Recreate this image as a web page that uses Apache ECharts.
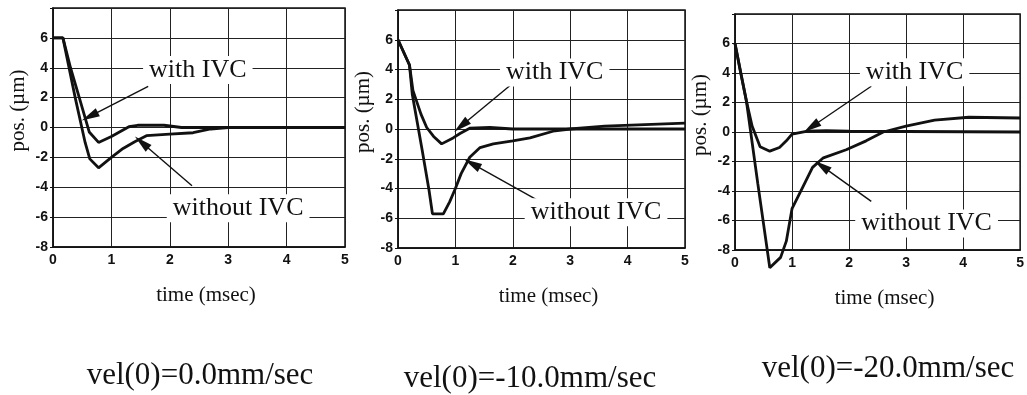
<!DOCTYPE html>
<html>
<head>
<meta charset="utf-8">
<script src="https://cdn.jsdelivr.net/npm/echarts@6/dist/echarts.min.js"></script>
<style>
  html, body { margin: 0; padding: 0; background: #fff; }
  #chart { width: 1027px; height: 395px; }
</style>
</head>
<body>
<div id="chart"></div>
<script>
// 讀圖估計的資料 (time msec, pos um)
const withIvc1 = [[0, 6], [0.17, 6], [0.3, 4.0], [0.45, 2.0], [0.62, -0.3], [0.78, -1.0], [1.0, -0.6], [1.3, 0.05], [1.45, 0.15], [1.9, 0.15], [2.2, 0], [5, 0]];
const withoutIvc1 = [[0, 6], [0.17, 6], [0.38, 2.0], [0.55, -1.0], [0.63, -2.1], [0.78, -2.7], [1.0, -2.0], [1.2, -1.4], [1.4, -0.95], [1.6, -0.55], [2.0, -0.45], [2.4, -0.35], [2.7, -0.1], [3.0, 0], [5, 0]];

const withIvc2 = [[0, 6], [0.2, 4.3], [0.26, 2.6], [0.4, 1.0], [0.5, 0.1], [0.62, -0.5], [0.76, -1.0], [0.96, -0.6], [1.08, -0.3], [1.25, 0.05], [1.6, 0.1], [2.0, 0], [5, 0]];
const withoutIvc2 = [[0, 6], [0.2, 4.3], [0.25, 2.3], [0.42, -1.4], [0.54, -4.1], [0.6, -5.7], [0.79, -5.7], [0.9, -4.9], [1.0, -4.0], [1.1, -3.0], [1.25, -1.9], [1.43, -1.25], [1.66, -1.0], [2.0, -0.8], [2.3, -0.6], [2.7, -0.15], [3.0, 0], [3.6, 0.2], [4.3, 0.3], [5, 0.4]];

const withIvc3 = [[0, 6], [0.1, 4.0], [0.2, 2.1], [0.3, 0.4], [0.44, -1.0], [0.61, -1.3], [0.78, -1.05], [0.9, -0.6], [1.0, -0.15], [1.25, 0.05], [1.6, 0.1], [2.0, 0.05], [5, 0]];
const withoutIvc3 = [[0, 6], [0.2, 2.1], [0.4, -3.5], [0.61, -9.2], [0.8, -8.5], [0.9, -7.4], [1.0, -5.2], [1.18, -3.8], [1.36, -2.4], [1.55, -1.75], [1.95, -1.2], [2.3, -0.6], [2.6, 0], [3.0, 0.4], [3.5, 0.8], [4.1, 1.0], [5, 0.95]];

const subtitles = ['vel(0)=0.0mm/sec', 'vel(0)=-10.0mm/sec', 'vel(0)=-20.0mm/sec'];
const seriesNames = ['with IVC', 'without IVC'];

// 標註: 文字位置與箭頭 (data coords)
const withLabelAt = [[2.48, 3.85], [2.73, 3.8], [3.15, 4.05]];
const withoutLabelAt = [[3.17, -5.4], [3.45, -5.6], [3.36, -6.2]];
const withArrows = [[[1.63, 2.75], [0.63, 0.75]], [[2.0, 3.07], [1.1, 0.2]], [[2.39, 3.1], [1.34, 0.34]]];
const withoutArrows = [[[2.38, -3.9], [1.52, -1.0]], [[2.53, -5.0], [1.29, -2.33]], [[2.39, -4.7], [1.52, -2.3]]];

const panels = [
  { withData: withIvc1, withoutData: withoutIvc1, grid: { left: 53, top: 8, width: 292, height: 239 }, sub: { x: 195, y: 355 } },
  { withData: withIvc2, withoutData: withoutIvc2, grid: { left: 398, top: 10, width: 287, height: 238 }, sub: { x: 525, y: 358 } },
  { withData: withIvc3, withoutData: withoutIvc3, grid: { left: 735, top: 14, width: 287, height: 236 }, sub: { x: 883, y: 348 } },
];

const serif = '"Liberation Serif", "Times New Roman", serif';
const sans = '"Liberation Sans", Arial, sans-serif';

const chart = echarts.init(document.getElementById('chart'), null, { renderer: 'canvas' });

const grids = [], xAxes = [], yAxes = [], series = [], titles = [];

panels.forEach((p, i) => {
  grids.push(Object.assign({ show: true, borderColor: '#111', borderWidth: 1.5, backgroundColor: 'transparent' }, p.grid));

  xAxes.push({
    type: 'value', gridIndex: i, min: 0, max: 5, interval: 1,
    name: 'time (msec)', nameLocation: 'middle', nameGap: 38,
    nameTextStyle: { fontFamily: serif, fontSize: 21, color: '#111', padding: [0, 0, 0, 14] },
    axisLine: { show: true, onZero: false, lineStyle: { color: '#111', width: 1.5 } },
    axisTick: { show: false },
    axisLabel: { fontFamily: sans, fontWeight: 'bold', fontSize: 14, color: '#111', margin: 6 },
    splitLine: { show: true, lineStyle: { color: '#222', width: 1 } },
  });

  yAxes.push({
    type: 'value', gridIndex: i, min: -8, max: 8, interval: 2,
    name: 'pos. (\u00b5m)', nameLocation: 'middle', nameGap: 24,
    nameTextStyle: { fontFamily: serif, fontSize: 21, color: '#111', padding: [0, 0, 0, 34] },
    axisLine: { show: true, onZero: false, lineStyle: { color: '#111', width: 1.5 } },
    axisTick: { show: true, inside: false, length: 3, lineStyle: { color: '#111' } },
    axisLabel: {
      fontFamily: sans, fontWeight: 'bold', fontSize: 14, color: '#111', margin: 5,
      formatter: (v) => (v === 8 ? '' : String(v)),
    },
    splitLine: { show: true, lineStyle: { color: '#222', width: 1 } },
  });

  const labelStyle = {
    show: true, position: 'inside', fontFamily: serif, fontSize: 26, color: '#111',
    backgroundColor: '#fff', padding: [1, 6],
  };

  series.push({
    name: seriesNames[0], type: 'line', xAxisIndex: i, yAxisIndex: i,
    data: p.withData, showSymbol: false, clip: false,
    lineStyle: { color: '#111', width: 2.8 },
    markLine: {
      silent: true, symbol: ['none', 'triangle'], symbolSize: [9, 18], label: { show: false },
      lineStyle: { color: '#111', width: 1.4, type: 'solid' },
      data: [[{ coord: withArrows[i][0] }, { coord: withArrows[i][1] }]],
    },
    markPoint: {
      symbol: 'rect', symbolSize: 1, itemStyle: { color: 'rgba(0,0,0,0)' }, silent: true,
      label: labelStyle,
      data: [{ name: seriesNames[0], coord: withLabelAt[i], label: { formatter: seriesNames[0] } }],
    },
    z: 3,
  });

  series.push({
    name: seriesNames[1], type: 'line', xAxisIndex: i, yAxisIndex: i,
    data: p.withoutData, showSymbol: false, clip: false,
    lineStyle: { color: '#111', width: 2.8 },
    markLine: {
      silent: true, symbol: ['none', 'triangle'], symbolSize: [9, 18], label: { show: false },
      lineStyle: { color: '#111', width: 1.4, type: 'solid' },
      data: [[{ coord: withoutArrows[i][0] }, { coord: withoutArrows[i][1] }]],
    },
    markPoint: {
      symbol: 'rect', symbolSize: 1, itemStyle: { color: 'rgba(0,0,0,0)' }, silent: true,
      label: labelStyle,
      data: [{ name: seriesNames[1], coord: withoutLabelAt[i], label: { formatter: seriesNames[1] } }],
    },
    z: 3,
  });

  titles.push({
    text: subtitles[i], left: p.sub.x, top: p.sub.y, textAlign: 'center',
    textStyle: { fontFamily: serif, fontSize: 31, fontWeight: 'normal', color: '#111' },
  });
});

chart.setOption({
  animation: false,
  backgroundColor: '#fff',
  title: titles,
  grid: grids,
  xAxis: xAxes,
  yAxis: yAxes,
  series,
});
</script>
</body>
</html>
